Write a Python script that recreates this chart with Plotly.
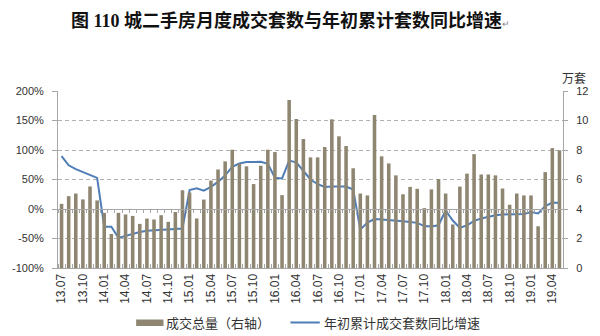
import plotly.graph_objects as go

months = [f"{y:02d}.{m:02d}" for y in range(13, 20) for m in range(1, 13)]
months = months[months.index("13.07"):months.index("19.05") + 1]

volume = [4.35, 4.87, 5.05, 4.65, 5.53, 4.58,
          3.74, 2.31, 3.74, 3.63, 3.53, 2.99, 3.35, 3.29, 3.58, 3.13, 3.80, 5.27,
          5.12, 3.36, 4.64, 5.93, 6.68, 7.23, 8.02, 7.07, 6.89, 5.69, 6.93, 8.02,
          7.86, 4.94, 11.39, 10.10, 8.74, 7.50, 7.50, 8.20, 10.08, 8.93, 8.27, 6.76,
          5.05, 4.92, 10.38, 7.57, 7.09, 6.28, 5.00, 5.50, 5.37, 4.06, 5.33, 6.03,
          5.05, 2.95, 5.52, 6.40, 7.72, 6.34, 6.34, 6.28, 5.39, 4.29, 5.05, 4.92,
          4.92, 2.83, 6.50, 8.13, 7.98]

yoy = [89.6, 74, 67.6, 63, 58.5, 52.8,
       -30, -30, -49, -45.6, -42, -39, -37, -36, -35.5, -35, -34, -33,
       32, 35, 31, 37.5, 46, 57, 71.5, 77, 79.5, 80, 80, 76.6, 53, 51.8,
       82, 79, 64, 50, 42, 37.5, 38, 38.5, 38, 33,
       -35, -23, -17, -18, -18.5, -19, -20.7, -22, -23.5, -29, -29.5, -27.5,
       -2.5, -19.5, -32, -27.5, -20, -16, -13, -10.5, -9.4, -9, -9, -8.5,
       -5, -7.5, 4.8, 11, 10]

left_ticks = [-100, -50, 0, 50, 100, 150, 200]
right_ticks = [0, 2, 4, 6, 8, 10, 12]
label_every = 3

title_text = "图 110 城二手房月度成交套数与年初累计套数同比增速"
bar_name = "成交总量（右轴）"
line_name = "年初累计成交套数同比增速"
right_unit = "万套"

BAR_COLOR = "#8f8671"
LINE_COLOR = "#4f7db6"
AXIS_COLOR = "#a6a6a6"
TXT = "#333333"
FONT = "Liberation Sans, Arial, sans-serif"
CJK = "Noto Sans CJK SC, sans-serif"
TITLE_FONT = "Liberation Serif, Noto Sans CJK SC, serif"

idx = list(range(len(months)))

fig = go.Figure()
fig.add_trace(go.Bar(x=idx, y=volume, name=bar_name, marker_color=BAR_COLOR,
                     marker_line_width=0, yaxis="y2", showlegend=False))
fig.add_trace(go.Scatter(x=idx, y=yoy, name=line_name, mode="lines",
                         line=dict(color=LINE_COLOR, width=2), yaxis="y",
                         showlegend=False))
# helper invisible trace so the zero-line axis is drawn
fig.add_trace(go.Scatter(x=[idx[0]], y=[None], xaxis="x2", yaxis="y",
                         showlegend=False, hoverinfo="skip"))

W, H = 600, 336
L, R, T, B = 47, 36, 91, 68
pw, ph = W - L - R, H - T - B

def px(xp):
    return (xp - L) / pw

def py(yp):
    return (H - B - yp) / ph

rng = [-0.5, len(months) - 0.5]

fig.update_layout(
    width=W, height=H,
    margin=dict(l=L, r=R, t=T, b=B, pad=0),
    paper_bgcolor="white", plot_bgcolor="white",
    bargap=0.5,
    font=dict(family=FONT, size=11, color=TXT),
    xaxis=dict(range=rng, tickmode="array",
               tickvals=idx[::label_every], ticktext=months[::label_every],
               tickangle=-90, ticks="", showgrid=False, zeroline=False,
               showline=True, linecolor=AXIS_COLOR, linewidth=1,
               tickfont=dict(size=12, family=FONT, color=TXT),
               minor=dict(ticks="inside", tickmode="linear", tick0=-0.5, dtick=1,
                          ticklen=4, tickcolor=AXIS_COLOR, showgrid=False)),
    xaxis2=dict(range=rng, overlaying="x", anchor="free",
                position=(0 - left_ticks[0]) / (left_ticks[-1] - left_ticks[0]),
                side="bottom", showticklabels=False, showgrid=False, zeroline=False,
                showline=True, linecolor=AXIS_COLOR, linewidth=1,
                tickmode="linear", tick0=-0.5, dtick=1, ticks="outside",
                ticklen=3, tickcolor=AXIS_COLOR),
    yaxis=dict(range=[left_ticks[0], left_ticks[-1]], tickmode="array",
               tickvals=left_ticks, ticktext=[f"{v}%" for v in left_ticks],
               showgrid=True, gridcolor="#b0b0b0", griddash="4px,3px", gridwidth=1,
               zeroline=False, showline=True, linecolor=AXIS_COLOR, linewidth=1,
               ticks="outside", ticklen=5, tickcolor=AXIS_COLOR,
               ticklabelstandoff=6),
    yaxis2=dict(range=[right_ticks[0], right_ticks[-1]], tickmode="array",
                tickvals=right_ticks, overlaying="y", side="right",
                showgrid=False, zeroline=False, showline=True,
                linecolor=AXIS_COLOR, linewidth=1, ticks="outside", ticklen=4,
                tickcolor=AXIS_COLOR, ticklabelstandoff=6),
)

annotations = [
    dict(text="<b>" + title_text + "</b><span style='font-size:9px;color:#888'>↵</span>",
         x=px(285), y=py(20), xref="paper", yref="paper",
         xanchor="center", yanchor="middle", showarrow=False,
         font=dict(family=TITLE_FONT, size=18, color="#111111")),
    dict(text=right_unit, x=px(575), y=py(78), xref="paper", yref="paper",
         xanchor="center", yanchor="middle", showarrow=False,
         font=dict(family=CJK, size=12, color=TXT)),
    dict(text=bar_name, x=px(156), y=py(322.5), xref="paper", yref="paper",
         xanchor="left", yanchor="middle", showarrow=False,
         font=dict(family=CJK, size=13, color=TXT)),
    dict(text=line_name, x=px(317), y=py(322.5), xref="paper", yref="paper",
         xanchor="left", yanchor="middle", showarrow=False,
         font=dict(family=CJK, size=13, color=TXT)),
]
shapes = [
    dict(type="rect", xref="paper", yref="paper", x0=px(127), x1=px(155),
         y0=py(326), y1=py(319.5), fillcolor=BAR_COLOR, line_width=0),
    dict(type="line", xref="paper", yref="paper", x0=px(285), x1=px(315),
         y0=py(322.5), y1=py(322.5), line=dict(color=LINE_COLOR, width=2)),
]
fig.update_layout(annotations=annotations, shapes=shapes)

fig.write_html("out.html")
